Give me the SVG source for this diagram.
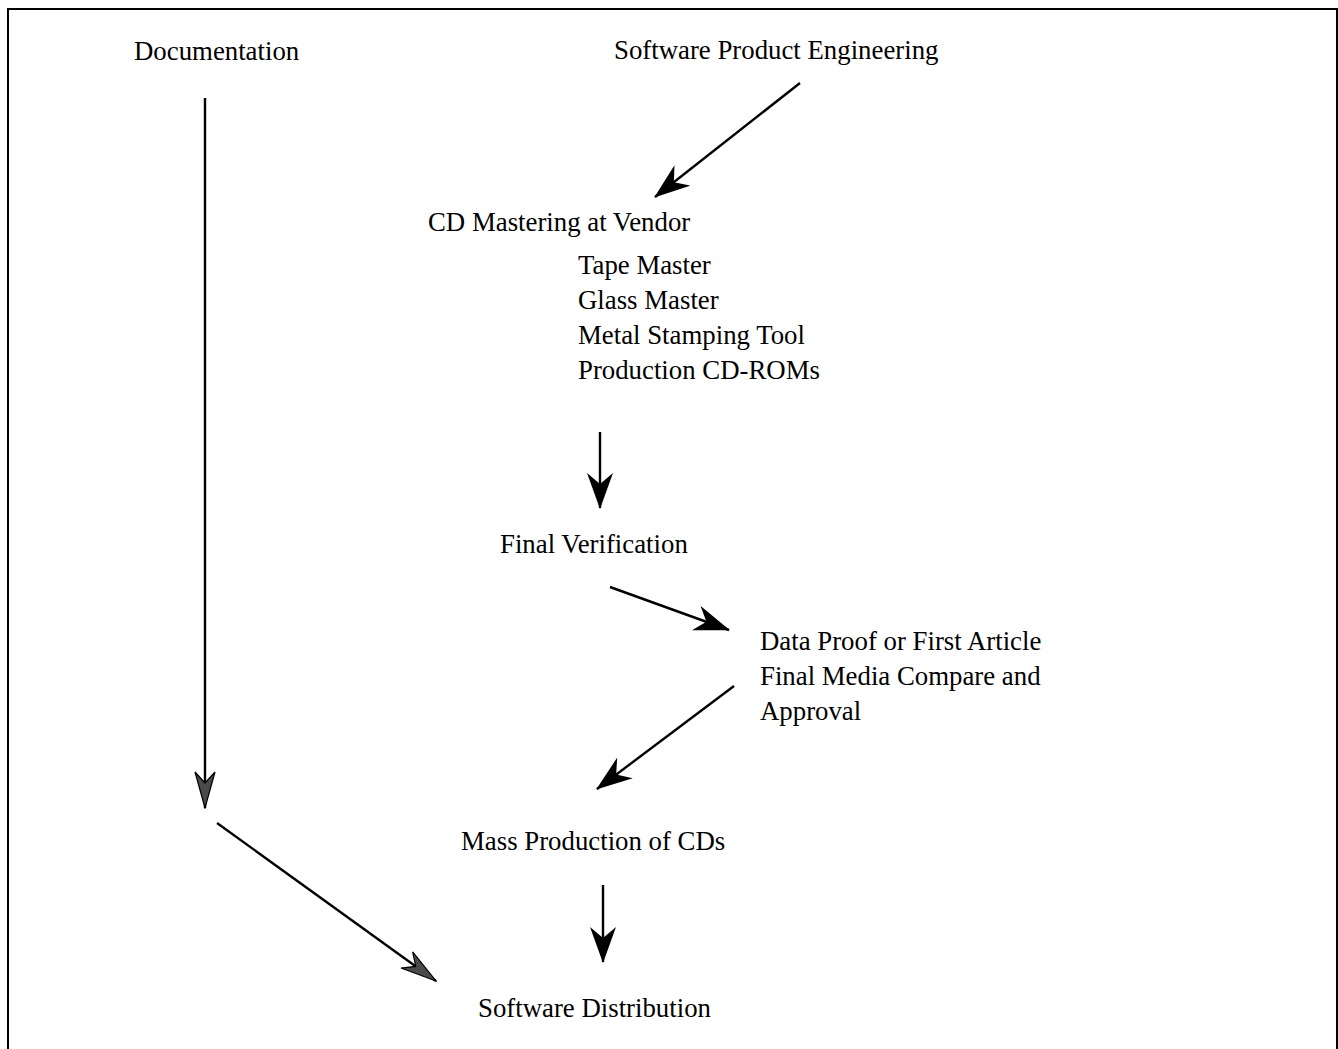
<svg xmlns="http://www.w3.org/2000/svg" width="1338" height="1049" viewBox="0 0 1338 1049">
  <style>
    text { font-family: "Liberation Serif", "Times New Roman", serif; font-size: 26.8px; fill: #000; }
    .conn { stroke: #000; stroke-width: 2.4; fill: none; }
    .dark { marker-end: url(#headGray); }
    .blk { marker-end: url(#headBlack); }
  </style>
  <defs>
    <!-- notched arrowheads, tip at the line end -->
    <marker id="headBlack" viewBox="0 0 36 26" refX="35" refY="13" markerWidth="36" markerHeight="26" markerUnits="userSpaceOnUse" orient="auto">
      <path d="M0,0 L36,13 L0,26 L11,13 Z" fill="#000"/>
    </marker>
    <marker id="headGray" viewBox="0 0 38 22" refX="37" refY="11" markerWidth="38" markerHeight="22" markerUnits="userSpaceOnUse" orient="auto">
      <path d="M1,1 L37,11 L1,21 L12,11 Z" fill="#4a4a4a" stroke="#000" stroke-width="1.2" stroke-linejoin="miter"/>
    </marker>
  </defs>
  <rect x="0" y="0" width="1338" height="1049" fill="#fff"/>
  <path d="M8,1049 V9 H1337 V1049" fill="none" stroke="#000" stroke-width="2"/>

  <g id="connectors">
    <line class="conn blk" x1="800" y1="83" x2="655" y2="197"/>
    <line class="conn dark" x1="205" y1="98" x2="205" y2="808"/>
    <line class="conn dark" x1="217" y1="823" x2="436" y2="981"/>
    <line class="conn blk" x1="600" y1="432" x2="600" y2="508"/>
    <line class="conn blk" x1="610" y1="587" x2="729" y2="630"/>
    <line class="conn blk" x1="734" y1="686" x2="597" y2="789"/>
    <line class="conn blk" x1="603" y1="885" x2="603" y2="962"/>
  </g>

  <g id="documentation"><text x="134" y="60">Documentation</text></g>
  <g id="software-product-engineering"><text x="614" y="59">Software Product Engineering</text></g>
  <g id="cd-mastering">
    <text x="428" y="231">CD Mastering at Vendor</text>
    <text x="578" y="274">Tape Master</text>
    <text x="578" y="309">Glass Master</text>
    <text x="578" y="344">Metal Stamping Tool</text>
    <text x="578" y="379">Production CD-ROMs</text>
  </g>
  <g id="final-verification"><text x="500" y="553">Final Verification</text></g>
  <g id="data-proof">
    <text x="760" y="650">Data Proof or First Article</text>
    <text x="760" y="685">Final Media Compare and</text>
    <text x="760" y="720">Approval</text>
  </g>
  <g id="mass-production"><text x="461" y="850">Mass Production of CDs</text></g>
  <g id="software-distribution"><text x="478" y="1017">Software Distribution</text></g>
</svg>
